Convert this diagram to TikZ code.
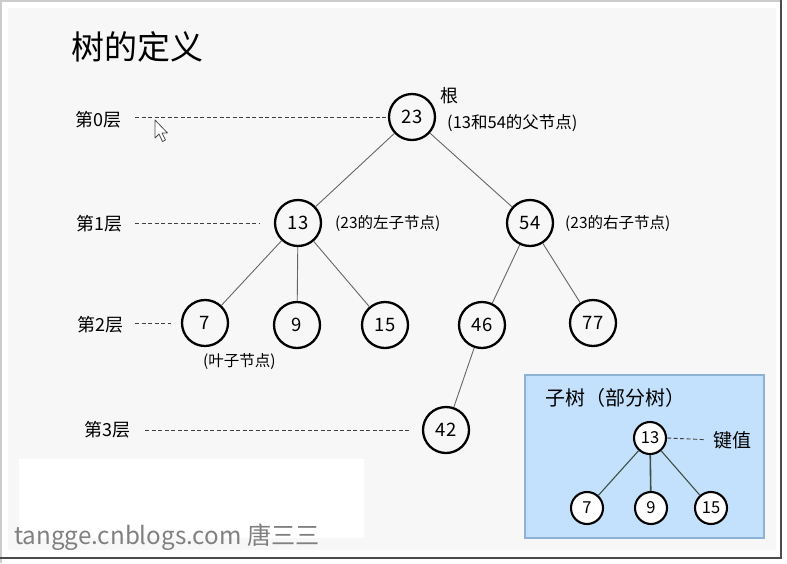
\documentclass[tikz,border=0pt]{standalone}
\usepackage{fontspec}
\setmainfont{Noto Sans CJK SC}
\usetikzlibrary{positioning}

\definecolor{pagebg}{HTML}{F7F7F7}
\definecolor{boxblue}{HTML}{C3E0FC}
\definecolor{boxline}{HTML}{8DB2D4}
\definecolor{subedge}{HTML}{3E5043}

\begin{document}
\begin{tikzpicture}
        [x=1pt, y=-1pt, inner sep=0pt,
         nd/.style={circle, draw, line width=2.3pt, minimum size=46pt, font=\fontsize{18.5}{18.5}\selectfont},
         sub/.style={circle, draw, fill=white, line width=2.1pt, minimum size=32pt, font=\fontsize{16.5}{16.5}\selectfont},
         lvl/.style={font=\fontsize{18}{18}\selectfont, anchor=east},
         note/.style={font=\fontsize{15.5}{15.5}\selectfont, anchor=west},
         lvlline/.style={draw=black!75, line width=0.9pt, dash pattern=on 4pt off 2.5pt},
         edge/.style={draw=black!60, line width=0.9pt}]
        \useasboundingbox (0,0) rectangle (787,563);
        % frame
        \fill[white] (0,0) rectangle (787,563);
        \draw[black!20, line width=1.5pt] (0.75,563) -- (0.75,0.75) -- (781,0.75);
        \draw[black!70, line width=2pt] (781,0) -- (781,558) -- (0,558);
        \fill[pagebg] (8,8) rectangle (776,550);
        \node (title) at (137,47) {\fontsize{33}{33}\selectfont 树的定义};

        % main tree
        \node (n23) at (412,117)[nd] {23};
        \node (n13) at (298,223)[nd] {13};
        \node (n54) at (530,223)[nd] {54};
        \node (n7)  at (205,323)[nd] {7};
        \node (n9)  at (297,325)[nd] {9};
        \node (n15) at (385,325)[nd] {15};
        \node (n46) at (482,325)[nd] {46};
        \node (n77) at (593,323)[nd] {77};
        \node (n42) at (446,430)[nd] {42};
        \draw [edge] (n23) -- (n13);
        \draw [edge] (n23) -- (n54);
        \draw [edge] (n13) -- (n7);
        \draw [edge] (n13) -- (n9);
        \draw [edge] (n13) -- (n15);
        \draw [edge] (n54) -- (n46);
        \draw [edge] (n54) -- (n77);
        \draw [edge] (n46) -- (n42);

        % levels
        \node (lv0) at (122,120)[lvl] {第0层};
        \node (lv1) at (123,224)[lvl] {第1层};
        \node (lv2) at (124,325)[lvl] {第2层};
        \node (lv3) at (131,430)[lvl] {第3层};
        \draw [lvlline, shorten <=13pt] (lv0.east |- n23) -- (n23.west);
        \draw [lvlline, shorten <=12pt, shorten >=15pt] (lv1.east |- n13) -- (n13.west);
        \draw [lvlline, shorten <=11pt, shorten >=10pt] (lv2.east |- n7) -- (n7.west);
        \draw [lvlline, shorten <=14pt, shorten >=13pt] (lv3.east |- n42) -- (n42.west);

        % notes
        \node (root) at (449,96) {\fontsize{18}{18}\selectfont 根};
        \node (par)  at (447,123)[note, font=\fontsize{16.5}{16.5}\selectfont] {(13和54的父节点)};
        \node (lch)  at (335,223)[note] {(23的左子节点)};
        \node (rch)  at (565,223)[note] {(23的右子节点)};
        \node (leaf) at (203,362)[note] {(叶子节点)};

        % mouse pointer
        \filldraw[fill=white, draw=black!70, line width=0.8pt, line join=round]
            (155,120) -- (155,138) -- (159,134) -- (162.5,141.5) -- (165.5,140) -- (162,133) -- (167.5,133) -- cycle;

        % watermark
        \fill[white] (19,459) rectangle (364,538);
        \node (mark) at (14,537)[anchor=west, text=black!50] {\fontsize{24.2}{24.2}\selectfont tangge.cnblogs.com 唐三三};

        % subtree box
        \draw[fill=boxblue, draw=boxline, line width=1.5pt] (525,375) rectangle (764,538);
        \node (stitle) at (545,398)[anchor=west] {\fontsize{20}{20}\selectfont 子树（部分树）};
        \node (s13) at (650,438)[sub] {13};
        \node (s7)  at (587,508)[sub] {7};
        \node (s9)  at (651,508)[sub] {9};
        \node (s15) at (711,508)[sub] {15};
        \draw [subedge, line width=1.1pt] (s13) -- (s7);
        \draw [subedge, line width=1.6pt] (s13) -- (s9);
        \draw [subedge, line width=1.1pt] (s13) -- (s15);
        \node (key) at (713,440)[anchor=west] {\fontsize{19}{19}\selectfont 键值};
        \draw [lvlline, shorten >=9pt] (s13.east) -- (key.west);
    \end{tikzpicture}
\end{document}
